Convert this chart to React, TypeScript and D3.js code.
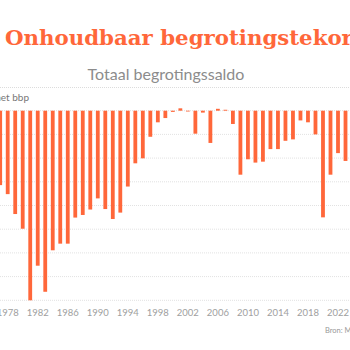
import React, { useEffect, useRef } from 'react';
import * as d3 from 'd3';

const years: number[] = d3.range(1977, 2024);
const saldo: number[] = [
  -3.14, -3.52, -4.36, -4.98, -8.0, -6.54, -7.64, -5.89, -5.61, -5.61,
  -4.51, -4.4, -4.17, -3.7, -4.15, -4.57, -4.3, -3.2, -2.22, -2.01,
  -1.1, -0.49, -0.31, -0.05, 0.1, -0.02, -0.97, -0.08, -1.36, 0.08,
  0.04, -0.56, -2.7, -2.05, -2.19, -2.15, -1.62, -1.62, -1.27, -1.21,
  -0.41, -0.49, -1.0, -4.5, -2.7, -1.79, -2.12,
];
const tickYears: number[] = d3.range(1978, 2023, 4);
const gridValues: number[] = d3.range(0, -9, -1);

const ORANGE = '#ff673a';

const App: React.FC = () => {
  const svgRef = useRef<SVGSVGElement | null>(null);

  useEffect(() => {
    const svg = d3.select(svgRef.current);
    svg.selectAll('*').remove();

    const x = d3.scaleLinear().domain([1978, 2022]).range([7.7, 338]);
    const y = d3.scaleLinear().domain([0, -8]).range([110.7, 300.3]);
    const barW = 3.8;

    // title (cut off at the right edge, as in the source)
    svg.append('text')
      .attr('x', 5).attr('y', 45)
      .attr('font-family', 'DejaVu Serif')
      .attr('font-weight', 'bold')
      .attr('font-size', 21.3)
      .attr('fill', ORANGE)
      .text('Onhoudbaar begrotingstekort');

    svg.append('text')
      .attr('x', 166).attr('y', 80)
      .attr('text-anchor', 'middle')
      .attr('font-family', 'Lato')
      .attr('font-size', 16)
      .attr('fill', '#8c8c8c')
      .text('Totaal begrotingssaldo');

    svg.append('line')
      .attr('x1', 0).attr('x2', 350)
      .attr('y1', 87.5).attr('y2', 87.5)
      .attr('stroke', '#dcdcdc')
      .attr('stroke-dasharray', '1,1');

    svg.append('text')
      .attr('x', 29).attr('y', 101)
      .attr('text-anchor', 'end')
      .attr('font-family', 'Lato')
      .attr('font-size', 10)
      .attr('fill', '#777')
      .text('in % van het bbp');

    // gridlines
    svg.append('g')
      .selectAll('line')
      .data(gridValues)
      .join('line')
      .attr('x1', 0).attr('x2', 350)
      .attr('y1', d => y(d)).attr('y2', d => y(d))
      .attr('stroke', '#e2e2e2')
      .attr('stroke-dasharray', '1,1');

    // bars
    svg.append('g')
      .selectAll('rect')
      .data(years)
      .join('rect')
      .attr('x', d => x(d) - barW / 2)
      .attr('width', barW)
      .attr('y', (d, i) => y(Math.max(0, saldo[i])))
      .attr('height', (d, i) => Math.max(0.8, Math.abs(y(saldo[i]) - y(0))))
      .attr('fill', ORANGE);

    // x labels
    svg.append('g')
      .selectAll('text')
      .data(tickYears)
      .join('text')
      .attr('x', d => x(d))
      .attr('y', 316)
      .attr('text-anchor', 'middle')
      .attr('font-family', 'Lato')
      .attr('font-size', 9.5)
      .attr('fill', '#a0a0a0')
      .text(d => d);

    svg.append('text')
      .attr('x', 325).attr('y', 333)
      .attr('font-family', 'Lato')
      .attr('font-size', 7.5)
      .attr('fill', '#999')
      .text('Bron: Ministerie van Financiën');
  }, []);

  return (
    <svg ref={svgRef} width={350} height={350}
      style={{ position: 'absolute', left: 0, top: 0, background: '#fff' }} />
  );
};

export default App;
